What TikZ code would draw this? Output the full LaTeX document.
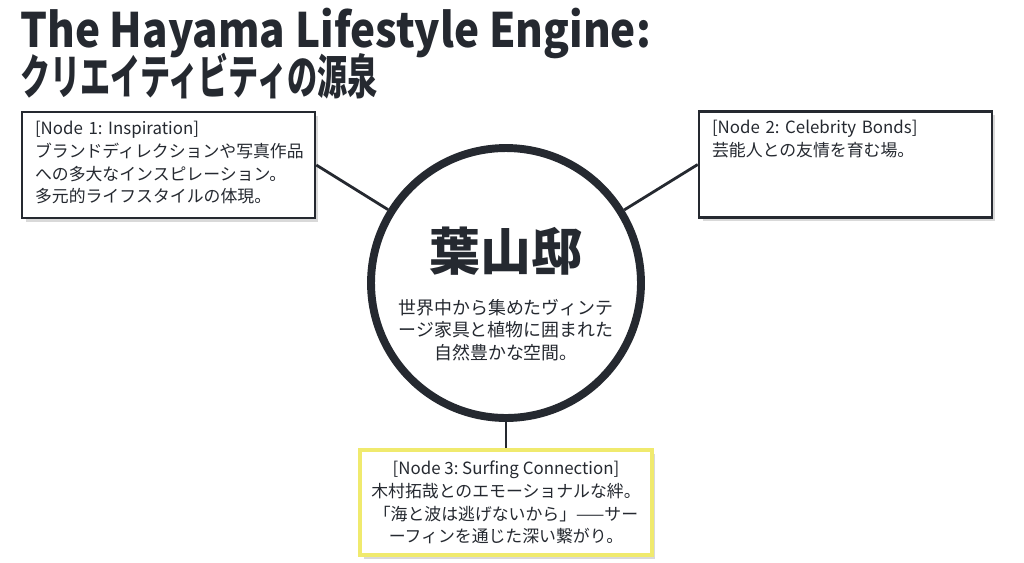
\documentclass[tikz,border=0pt]{standalone}
\usepackage{fontspec}
\setmainfont{Noto Sans CJK JP}
\usetikzlibrary{positioning, shadows}
\frenchspacing
\definecolor{ink}{RGB}{37,41,48}
\definecolor{hiyellow}{RGB}{240,234,110}
\tikzset{%
   % title block, each line squeezed sideways like the slide
   heading/.style={
      anchor=north west,
      inner sep=0pt,
      align=left,
      text=ink,
      font=\fontsize{27}{22}\selectfont\bfseries
   },
   % hub circle in the middle
   hub/.style={
      circle,
      draw=ink,
      fill=white,
      line width=4.5pt,
      minimum size=5.4cm,
      inner sep=0pt
   },
   hubname/.style={
      text=ink,
      inner sep=0pt,
      font=\fontsize{29}{32}\selectfont\bfseries
   },
   hubtext/.style={
      text=ink,
      inner sep=0pt,
      align=center,
      font=\fontsize{10.2}{13}\selectfont
   },
   % white card, text pinned to the top
   card/.style={
      draw=ink,
      fill=white,
      line width=1.5pt,
      align=left,
      text=ink,
      text width=5.34cm,
      inner xsep=0.26cm,
      inner ysep=0.18cm,
      text height=7.5pt,
      text depth=42.4pt,
      minimum width=5.86cm,
      minimum height=2.12cm,
      font=\fontsize{9.6}{13}\selectfont,
      drop shadow={shadow xshift=2pt, shadow yshift=-2pt, opacity=.3}
   },
   % yellow card, text centred
   hicard/.style={
      draw=hiyellow,
      fill=white,
      line width=2.2pt,
      align=center,
      text=ink,
      inner sep=0pt,
      minimum width=5.84cm,
      minimum height=2.1cm,
      font=\fontsize{9.6}{13}\selectfont,
      drop shadow={shadow xshift=2pt, shadow yshift=-2pt, opacity=.3}
   },
   link/.style={
      draw=ink,
      line width=1.6pt
   }
}

\begin{document}
\begin{tikzpicture}[x=0.02cm, y=-0.02cm]
   \useasboundingbox (0,0) rectangle (1024,562);

   \node[heading] (title) at (20,8)
      {\scalebox{0.89}[1]{The Hayama Lifestyle Engine:}\\[-4.5pt]
       \scalebox{0.635}[1]{クリエイティビティの源泉}};

   \node[hub] (hub) at (506,283) {};
   \node[hubname] (hubname) at (506,251) {葉山邸};
   \node[hubtext] (hubdesc) at (506,330)
      {世界中から集めたヴィンテ\\ージ家具と植物に囲まれた\\自然豊かな空間。};

   \node[card] (insp) at (168.5,165)
      {[Node 1: Inspiration]\\ブランドディレクションや写真作品\\への多大なインスピレーション。\\多元的ライフスタイルの体現。};
   \node[card] (celeb) at (845.5,164.5)
      {[Node 2: Celebrity Bonds]\\芸能人との友情を育む場。};
   \node[hicard] (surf) at (506,502.5)
      {[Node 3: Surfing Connection]\\木村拓哉とのエモーショナルな絆。\\「海と波は逃げないから」——サー\\ーフィンを通じた深い繋がり。};

   \draw[link] (insp.east) -- (hub);
   \draw[link] (celeb.west) -- (hub);
   \draw[link] (surf.north) -- (hub);
\end{tikzpicture}
\end{document}
